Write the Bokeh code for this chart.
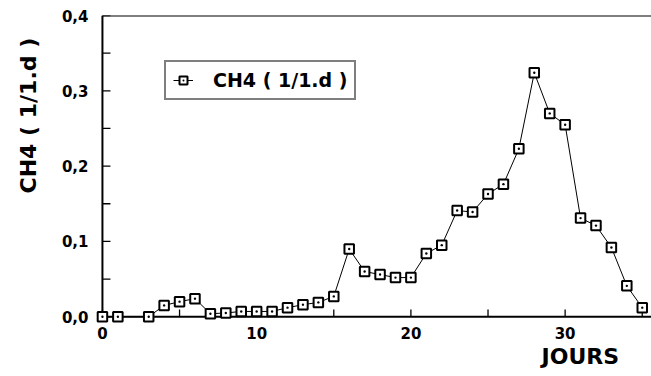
from bokeh.plotting import figure
from bokeh.models import (Range1d, FixedTicker, CustomJSTickFormatter, Legend, LegendItem,
                          Title)
from bokeh.embed import file_html
from bokeh.resources import INLINE

# Data
days = [0, 1, 3, 4, 5, 6, 7, 8, 9, 10, 11, 12, 13, 14, 15, 16, 17, 18, 19, 20, 21, 22,
        23, 24, 25, 26, 27, 28, 29, 30, 31, 32, 33, 34, 35]
ch4 = [0.0, 0.0, 0.0, 0.015, 0.020, 0.024, 0.004, 0.005, 0.007, 0.007, 0.007, 0.012,
       0.016, 0.019, 0.027, 0.090, 0.060, 0.056, 0.052, 0.052, 0.084, 0.095, 0.141,
       0.139, 0.163, 0.176, 0.223, 0.324, 0.270, 0.255, 0.131, 0.121, 0.092, 0.041, 0.012]
x_major = [0, 10, 20, 30]
x_minor = [5, 15, 25, 35]
y_major = [0.0, 0.1, 0.2, 0.3, 0.4]
y_minor = [0.05, 0.15, 0.25, 0.35]
series_label = "CH4 ( 1/1.d )"
x_title = "JOURS"
y_title = "CH4 ( 1/1.d )"

FONT = "DejaVu Sans"
X0, X1 = -0.45, 35.6
Y0, Y1 = -0.009, 0.4

p = figure(width=651, height=376, output_backend="svg", toolbar_location=None,
           x_range=Range1d(X0, X1), y_range=Range1d(Y0, Y1),
           min_border_left=95, min_border_right=0, min_border_top=15, min_border_bottom=53)
p.outline_line_color = None
p.grid.visible = False
p.background_fill_color = "white"
p.border_fill_color = "white"

# axis lines at zero and top frame line
p.segment(x0=[0, 0, 0], y0=[0, 0, Y1], x1=[X1, 0, X1], y1=[0, Y1, Y1],
          line_color="black", line_width=2)
# inward tick marks (length in data units ~8px)
ytk = y_major + y_minor
p.segment(x0=[0] * len(ytk), y0=ytk, x1=[0.52] * len(ytk), y1=ytk,
          line_color="black", line_width=1.3)
xtk = x_major + x_minor
p.segment(x0=xtk, y0=[0] * len(xtk), x1=xtk, y1=[0.0095] * len(xtk),
          line_color="black", line_width=1.3)

line = p.line(days, ch4, line_color="black", line_width=1)
pts = p.scatter(days, ch4, marker="square_dot", size=9.5, line_color="black",
                line_width=2, fill_color="white")

xa = p.xaxis[0]
xa.ticker = FixedTicker(ticks=x_major, minor_ticks=x_minor)
xa.formatter = CustomJSTickFormatter(code="return tick.toFixed(0);")
ya = p.yaxis[0]
ya.ticker = FixedTicker(ticks=y_major, minor_ticks=y_minor)
ya.formatter = CustomJSTickFormatter(code="return tick.toFixed(1).replace('.', ',');")

for ax in (xa, ya):
    ax.axis_line_color = None
    ax.major_tick_line_color = None
    ax.minor_tick_line_color = None
    ax.major_tick_in = 0
    ax.major_tick_out = 0
    ax.minor_tick_in = 0
    ax.minor_tick_out = 0
    ax.major_label_text_font = FONT
    ax.major_label_text_font_style = "bold"
    ax.major_label_text_font_size = "15px"
    ax.major_label_text_color = "black"
xa.major_label_standoff = 3
ya.major_label_standoff = 7

p.add_layout(Title(text=x_title, align="left", offset=446, standoff=0,
                   text_font=FONT, text_font_style="bold", text_font_size="22px",
                   text_color="black"), "below")
p.add_layout(Title(text=y_title, align="left", offset=130, standoff=31,
                   vertical_align="top",
                   text_font=FONT, text_font_style="bold", text_font_size="22px",
                   text_color="black"), "left")

legend = Legend(items=[LegendItem(label=series_label, renderers=[line, pts])],
                location=(69, 223), border_line_color="black", border_line_width=2,
                padding=7, margin=0, glyph_width=20, label_standoff=20,
                label_text_font=FONT, label_text_font_style="bold",
                label_text_font_size="19px", label_text_color="black",
                background_fill_alpha=1)
p.add_layout(legend)

open("out.html", "w").write(file_html(p, INLINE))
